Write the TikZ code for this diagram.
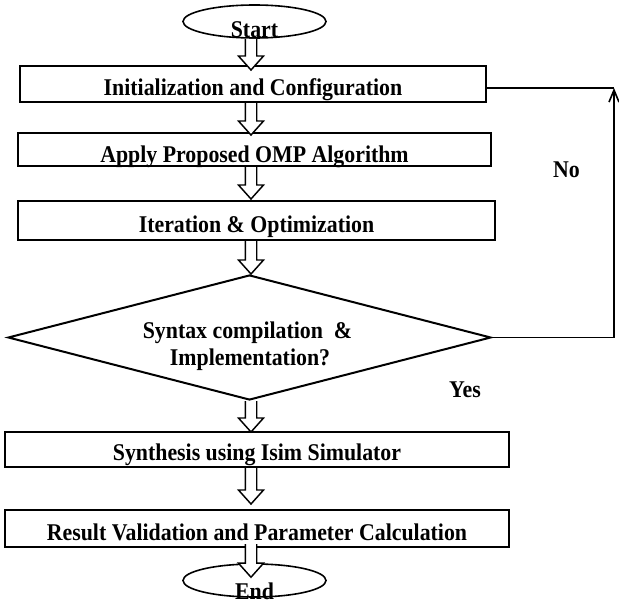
\documentclass[tikz,border=0pt]{standalone}
\usepackage{fontspec}
\setmainfont[FakeStretch=0.91]{Liberation Serif}
\usetikzlibrary{shapes.geometric,calc,arrows.meta}
\tikzset{
  box/.style={draw, line width=1.5pt, rectangle, inner xsep=0pt, inner ysep=0pt,
    font=\fontsize{18pt}{22pt}\selectfont\bfseries},
  oval/.style={draw, ellipse, line width=1.2pt, inner sep=0pt,
    minimum width=107.25pt, minimum height=24.75pt},
  decision/.style={draw, diamond, line width=1.5pt, inner sep=0pt,
    minimum width=362.25pt, minimum height=93.75pt},
  lbl/.style={anchor=base, inner sep=0pt, font=\fontsize{18pt}{22pt}\selectfont\bfseries},
  barrowstyle/.style={draw, fill=white, line width=1.1pt, line join=miter},
  loopline/.style={draw, line width=1.2pt},
}
\newcommand\barrow[4]{%
  \path[barrowstyle] let \p1=($(axis |- #1)+(0,#3)$), \p2=($(axis |- #2)+(0,#4)$) in
  (\x1-4.3pt,\y1) -- (\x1-4.3pt,\y2+10.5pt) -- (\x1-9.4pt,\y2+10.5pt) -- (\x1,\y2)
  -- (\x1+9.4pt,\y2+10.5pt) -- (\x1+4.3pt,\y2+10.5pt) -- (\x1+4.3pt,\y1);}
\begin{document}
\begin{tikzpicture}[x=0.75pt,y=-0.75pt]
\useasboundingbox (0,0) rectangle (619,603);
\coordinate (axis) at (251,0);
% nodes
\node[oval] (start) at (254.5,21.5) {};
\node[box, minimum width=349.5pt, text height=21.75pt, text depth=5.25pt] (init) at (253,84) {Initialization and Configuration};
\node[box, minimum width=354.75pt, text height=21.75pt, text depth=3pt] (apply) at (254.5,149.5) {Apply Proposed OMP Algorithm};
\node[box, minimum width=357.75pt, text height=23.25pt, text depth=6pt] (iter) at (256.5,220.5) {Iteration \& Optimization};
\node[decision] (dia) at (249.5,337.5) {};
\node[box, minimum width=378pt, text height=21pt, text depth=5.25pt] (synth) at (257,449.5) {Synthesis using Isim Simulator};
\node[box, minimum width=378pt, text height=22.5pt, text depth=5.25pt] (result) at (257,528.5) {Result Validation and Parameter Calculation};
\node[oval] (end) at (254.5,580.5) {};
% loop back
\coordinate (loopc) at (614,88);
\draw[loopline] (init.east |- loopc) -- (loopc);
\draw[loopline, -{Straight Barb[length=9pt,width=7.5pt]}] (dia.east) -- (dia.east -| loopc) -- (loopc);
% block arrows
\barrow{start.south}{init.north}{0}{5}
\barrow{init.south}{apply.north}{0}{3}
\barrow{apply.south}{iter.north}{0}{-1}
\barrow{iter.south}{dia.north}{0}{0}
\barrow{dia.south}{synth.north}{0}{1}
\barrow{synth.south}{result.north}{0}{-5}
\barrow{result.south}{end.north}{-4}{14}
% labels
\node[lbl] (startT) at (254.5,37) {Start};
\node[lbl] (endT) at (254.5,599) {End};
\node[lbl] (noT) at (566.5,177) {No};
\node[lbl] (yesT) at (465,397) {Yes};
\node[lbl] (q1) at (247.5,338) {Syntax compilation\ \ \&};
\node[lbl] (q2) at (250,365) {Implementation?};
\end{tikzpicture}
\end{document}
